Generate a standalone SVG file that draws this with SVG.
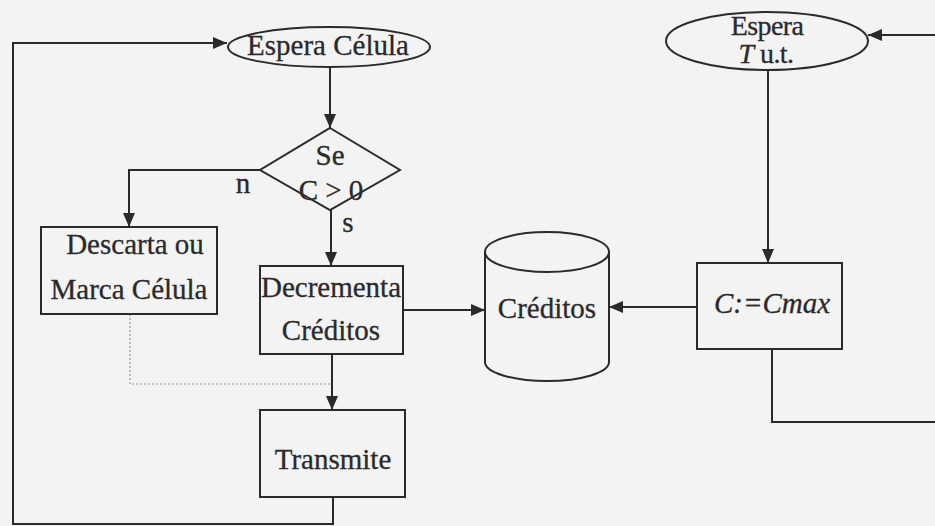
<svg xmlns="http://www.w3.org/2000/svg" width="935" height="526" viewBox="0 0 935 526">
  <style>
    .shape { fill: none; stroke: #2a2a2a; stroke-width: 2; }
    .line { fill: none; stroke: #2a2a2a; stroke-width: 2; }
    .dotted { fill: none; stroke: #9a9a9a; stroke-width: 1.2; stroke-dasharray: 2 2; }
    .lbl { font-family: 'Liberation Serif', 'Times New Roman', serif; font-size: 29px; fill: #2a2a2a; stroke: #2a2a2a; stroke-width: 0.3; text-anchor: middle; }
    .it { font-style: italic; }
    .tight { font-size: 28px; letter-spacing: -0.6px; }
  </style>
  <defs>
    <marker id="arrow" viewBox="0 0 14 12" refX="14" refY="6" markerWidth="14" markerHeight="12" markerUnits="userSpaceOnUse" orient="auto">
      <path d="M0,0 L14,6 L0,12 Z" fill="#2a2a2a"/>
    </marker>
  </defs>

  <rect x="0" y="0" width="935" height="526" fill="#f3f3f3"/>

  <!-- connectors -->
  <g id="connectors">
    <!-- main loop back from Transmite to Espera Célula -->
    <path class="line" d="M333,497 V524 H13 V43 H227" marker-end="url(#arrow)"/>
    <!-- Espera Célula to decision -->
    <path class="line" d="M330,68 V128" marker-end="url(#arrow)"/>
    <!-- decision: n branch -->
    <path class="line" d="M260,170 H129 V227" marker-end="url(#arrow)"/>
    <!-- decision: s branch -->
    <path class="line" d="M331,210 V266" marker-end="url(#arrow)"/>
    <!-- Decrementa to Transmite -->
    <path class="line" d="M332,354 V410" marker-end="url(#arrow)"/>
    <!-- Descarta to Transmite (dotted) -->
    <path class="dotted" d="M130,314 V384 H330"/>
    <!-- Decrementa to Créditos store -->
    <path class="line" d="M403,310 H485" marker-end="url(#arrow)"/>
    <!-- C:=Cmax to Créditos store -->
    <path class="line" d="M697,307 H609" marker-end="url(#arrow)"/>
    <!-- Espera T to C:=Cmax -->
    <path class="line" d="M768,70 V263" marker-end="url(#arrow)"/>
    <!-- loop from C:=Cmax back to Espera T -->
    <path class="line" d="M772,349 V422 H935"/>
    <path class="line" d="M935,35 H868" marker-end="url(#arrow)"/>
  </g>

  <g id="espera-celula">
    <ellipse class="shape" cx="329" cy="47" rx="101" ry="20"/>
    <text class="lbl" x="328" y="55">Espera Célula</text>
  </g>

  <g id="decisao">
    <polygon class="shape" points="330,128 400,170 330,210 260,170"/>
    <text class="lbl" x="330" y="165">Se</text>
    <text class="lbl" x="331" y="200">C &gt; 0</text>
  </g>

  <g id="labels">
    <text class="lbl" x="243" y="193">n</text>
    <text class="lbl" x="348" y="232">s</text>
  </g>

  <g id="descarta">
    <rect class="shape" x="41" y="227" width="176" height="87"/>
    <text class="lbl" x="135" y="254">Descarta ou</text>
    <text class="lbl" x="129" y="299">Marca Célula</text>
  </g>

  <g id="decrementa">
    <rect class="shape" x="260" y="266" width="143" height="88"/>
    <text class="lbl" x="331" y="297">Decrementa</text>
    <text class="lbl" x="331" y="340">Créditos</text>
  </g>

  <g id="transmite">
    <rect class="shape" x="260" y="410" width="145" height="87"/>
    <text class="lbl" x="333" y="469">Transmite</text>
  </g>

  <g id="creditos">
    <path class="shape" d="M485,252 V362 A62,19 0 0 0 609,362 V252"/>
    <ellipse class="shape" cx="547" cy="252" rx="62" ry="20"/>
    <text class="lbl" x="547" y="318">Créditos</text>
  </g>

  <g id="cmax">
    <rect class="shape" x="697" y="263" width="145" height="86"/>
    <text class="lbl it" x="772" y="313">C:=Cmax</text>
  </g>

  <g id="espera-t">
    <ellipse class="shape" cx="767" cy="41" rx="101" ry="29"/>
    <text class="lbl tight" x="767" y="35">Espera</text>
    <text class="lbl tight" x="766" y="63"><tspan class="it">T</tspan> u.t.</text>
  </g>
</svg>
